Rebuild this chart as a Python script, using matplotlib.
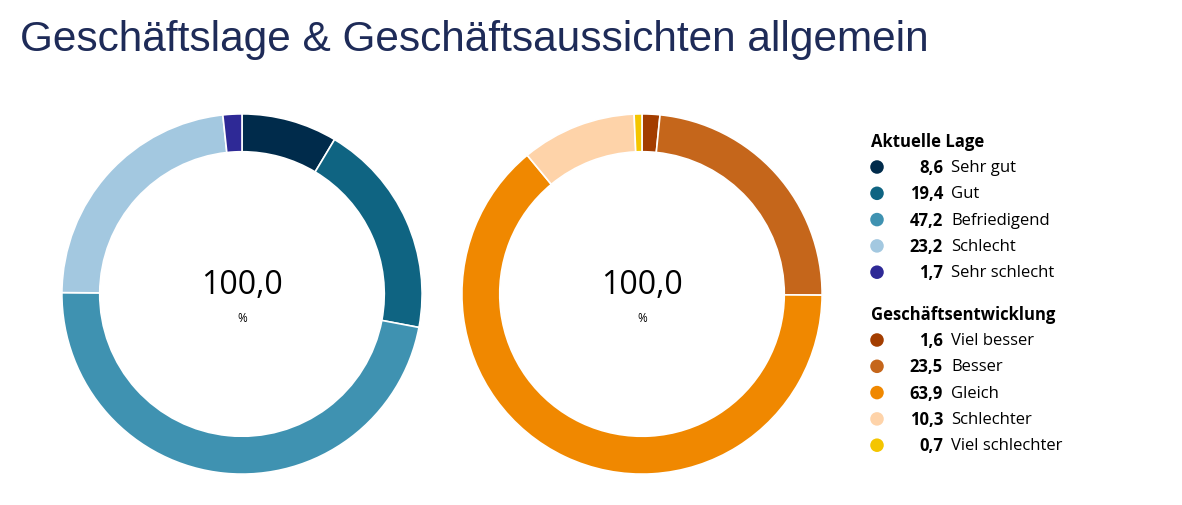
import matplotlib
matplotlib.use("Agg")
import matplotlib.pyplot as plt

title = "Geschäftslage & Geschäftsaussichten allgemein"

lage_title = "Aktuelle Lage"
lage_labels = ["Sehr gut", "Gut", "Befriedigend", "Schlecht", "Sehr schlecht"]
lage_values = [8.6, 19.4, 47.2, 23.2, 1.7]
lage_colors = ["#002b4b", "#0f6482", "#3f92b1", "#a3c8e0", "#2e2996"]

entw_title = "Geschäftsentwicklung"
entw_labels = ["Viel besser", "Besser", "Gleich", "Schlechter", "Viel schlechter"]
entw_values = [1.6, 23.5, 63.9, 10.3, 0.7]
entw_colors = ["#a33d00", "#c5661b", "#f08800", "#fed3a9", "#f4c500"]

center_text = "100,0"
center_unit = "%"

W, H = 1182, 506
fig = plt.figure(figsize=(W / 100, H / 100), dpi=100)
fig.patch.set_facecolor("white")

FONT = ["Open Sans", "DejaVu Sans"]
TITLE_FONT = ["Liberation Sans", "DejaVu Sans"]


def donut(cx, cy, r, values, colors):
    ax = fig.add_axes([(cx - r) / W, 1 - (cy + r) / H, 2 * r / W, 2 * r / H])
    ax.pie(values, colors=colors, startangle=90, counterclock=False,
           radius=1.0, wedgeprops=dict(width=0.21, edgecolor="white", linewidth=1.2))
    ax.set_xlim(-1.005, 1.005)
    ax.set_ylim(-1.005, 1.005)
    ax.set_aspect("equal")
    ax.axis("off")
    ax.text(0, 0.05, center_text, ha="center", va="center", fontsize=23,
            family=FONT, color="black")
    ax.text(0, -0.13, center_unit, ha="center", va="center", fontsize=8.5,
            family=FONT, color="black")
    return ax


donut(242, 295, 181, lage_values, lage_colors)
donut(642, 295, 181, entw_values, entw_colors)

# overlay axes in pixel coordinates for title and legend
ov = fig.add_axes([0, 0, 1, 1])
ov.set_xlim(0, W)
ov.set_ylim(H, 0)
ov.axis("off")
ov.patch.set_alpha(0)

ov.text(20, 40, title, fontsize=30.5, color="#1e2b58", family=TITLE_FONT,
        ha="left", va="center")


def fmt(v):
    return f"{v:.1f}".replace(".", ",")


def legend_block(y0, head, labels, values, colors):
    ov.text(871, y0, head, fontsize=12, fontweight="bold", family=FONT,
            color="black", ha="left", va="center")
    for i, (lab, val, col) in enumerate(zip(labels, values, colors)):
        y = y0 + 26 + i * 26.3
        ov.scatter([877], [y], s=95, color=col, edgecolors="none", zorder=3)
        ov.text(943, y, fmt(val), fontsize=12, fontweight="bold", family=FONT,
                color="black", ha="right", va="center")
        ov.text(951, y, lab, fontsize=12, family=FONT, color="black",
                ha="left", va="center")


legend_block(142, lage_title, lage_labels, lage_values, lage_colors)
legend_block(315, entw_title, entw_labels, entw_values, entw_colors)

fig.savefig("out.png", dpi=100, facecolor="white")
